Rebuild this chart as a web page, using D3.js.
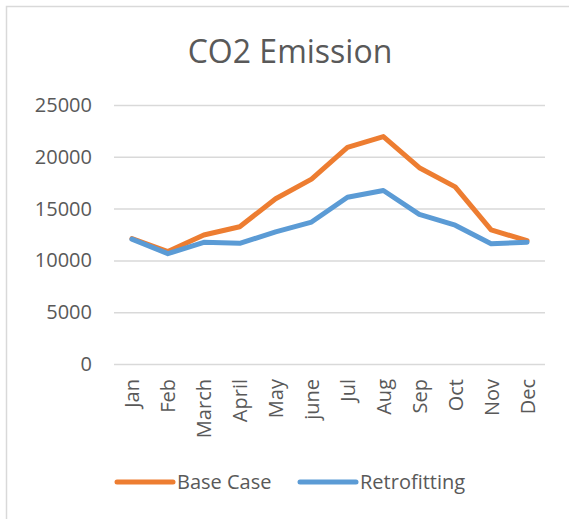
<!DOCTYPE html>
<html lang="en">

<head>
  <meta charset="utf-8">
  <title>CO2 Emission</title>
  <script src="https://d3js.org/d3.v7.min.js"></script>
  <style>
    body { margin: 0; background: #fff; }
    text { font-family: "Open Sans", sans-serif; fill: #595959; }
  </style>
</head>

<body>
  <script>
    var months = ['Jan', 'Feb', 'March', 'April', 'May', 'june', 'Jul', 'Aug', 'Sep', 'Oct', 'Nov', 'Dec'];
    var baseCase = [12100, 10850, 12450, 13250, 15950, 17850, 20900, 21950, 18950, 17100, 12950, 11900];
    var retrofitting = [12050, 10650, 11750, 11650, 12750, 13700, 16100, 16750, 14450, 13400, 11600, 11750];
    var yTicks = [0, 5000, 10000, 15000, 20000, 25000];

    var series = [
      { name: 'Base Case', values: baseCase, color: '#ED7D31' },
      { name: 'Retrofitting', values: retrofitting, color: '#5B9BD5' }
    ];

    var w = 569, h = 519;
    var margin = { top: 105, right: 24, bottom: 155, left: 114 };

    var svg = d3.select('body').append('svg')
      .attr('width', w)
      .attr('height', h);

    // chart area border (right/bottom are cut off in the reference)
    svg.append('rect')
      .attr('x', 6.5).attr('y', 6.5)
      .attr('width', w + 20).attr('height', h + 20)
      .attr('fill', 'none')
      .attr('stroke', '#d9d9d9')
      .attr('stroke-width', 1.5);

    svg.append('text')
      .attr('x', 290).attr('y', 63)
      .attr('text-anchor', 'middle')
      .style('font-size', '32px')
      .text('CO2 Emission');

    var x = d3.scaleBand().domain(months).range([margin.left, w - margin.right]);
    var y = d3.scaleLinear().domain([0, 25000]).range([h - margin.bottom, margin.top]);

    // gridlines + y labels
    var yAxis = d3.axisLeft(y)
      .tickValues(yTicks)
      .tickFormat(d3.format('d'))
      .tickSize(-(w - margin.right - margin.left))
      .tickPadding(22);
    var gy = svg.append('g')
      .attr('transform', 'translate(' + margin.left + ',0)')
      .call(yAxis);
    gy.select('.domain').remove();
    gy.selectAll('line').attr('stroke', '#d9d9d9').attr('stroke-width', 1.5);
    gy.selectAll('text').style('font-size', '20px').attr('fill', '#595959');

    // x labels rotated
    var xAxis = d3.axisBottom(x).tickSize(0).tickPadding(0);
    var gx = svg.append('g')
      .attr('transform', 'translate(0,' + (h - margin.bottom) + ')')
      .call(xAxis);
    gx.select('.domain').remove();
    gx.selectAll('text')
      .style('font-size', '20px')
      .attr('fill', '#595959')
      .attr('text-anchor', 'end')
      .attr('dy', null)
      .attr('transform', 'translate(0,15) rotate(-90)')
      .attr('x', 0).attr('y', 0)
      .attr('dominant-baseline', 'central');

    var line = d3.line()
      .x(function (d, i) { return x(months[i]) + x.bandwidth() / 2; })
      .y(function (d) { return y(d); });

    svg.selectAll('.series')
      .data(series)
      .enter().append('path')
      .attr('class', 'series')
      .attr('d', function (d) { return line(d.values); })
      .attr('fill', 'none')
      .attr('stroke', function (d) { return d.color; })
      .attr('stroke-width', 5)
      .attr('stroke-linejoin', 'round')
      .attr('stroke-linecap', 'round');

    // legend
    var legendX = [117, 300];
    var lg = svg.selectAll('.legend')
      .data(series)
      .enter().append('g')
      .attr('class', 'legend')
      .attr('transform', function (d, i) { return 'translate(' + legendX[i] + ',482)'; });
    lg.append('line')
      .attr('x1', 0).attr('x2', 56)
      .attr('stroke', function (d) { return d.color; })
      .attr('stroke-width', 5)
      .attr('stroke-linecap', 'round');
    lg.append('text')
      .attr('x', 60).attr('y', 0)
      .attr('dy', '0.35em')
      .style('font-size', '20px')
      .text(function (d) { return d.name; });
  </script>
</body>

</html>
